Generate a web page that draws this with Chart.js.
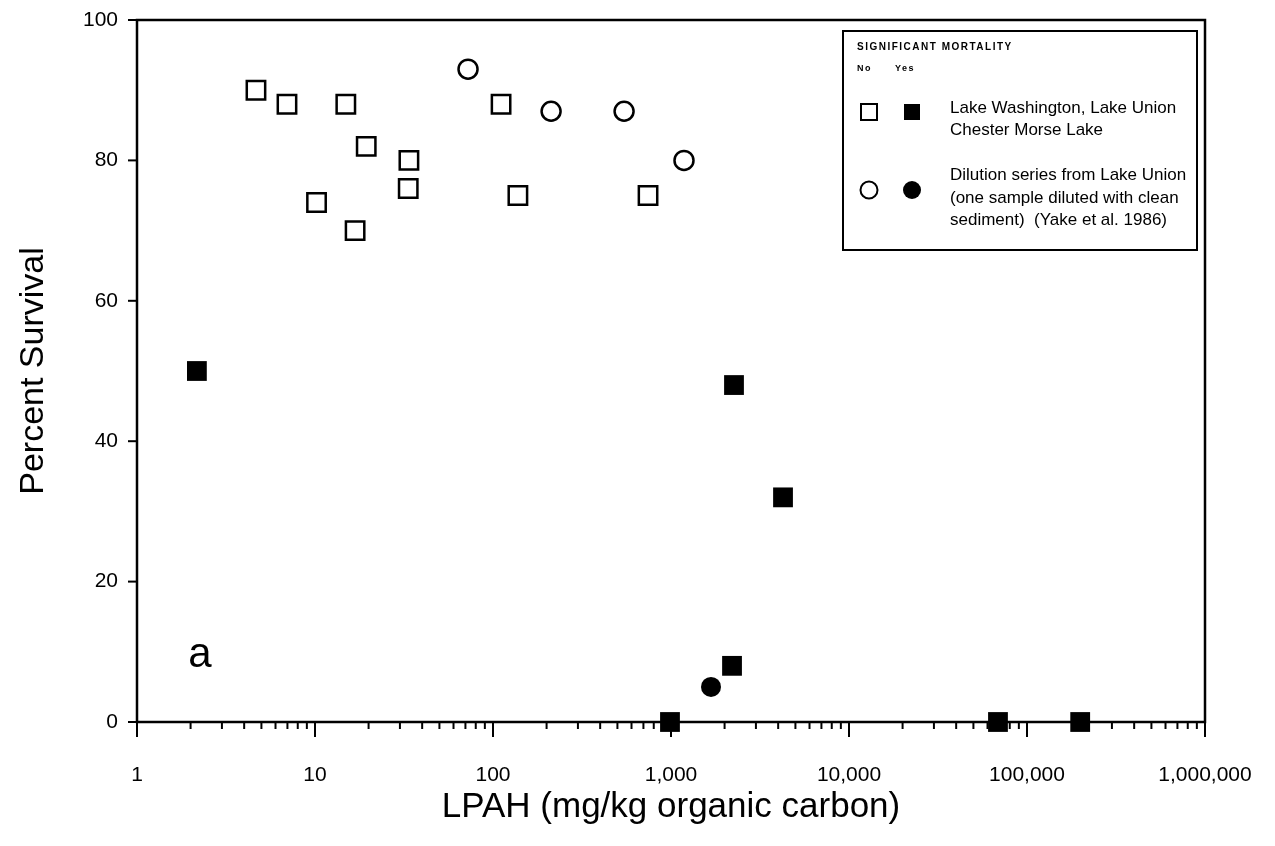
<!DOCTYPE html>
<html>
<head>
<meta charset="utf-8">
<script src="https://cdn.jsdelivr.net/npm/chart.js@4"></script>
<style>
  body { margin: 0; background: #fff; }
  canvas { display: block; }
</style>
</head>
<body>
<canvas id="chart1" width="1275" height="846"></canvas>
<script>
// LPAH (mg/kg OC) vs percent survival
const openSquareX = [4.66, 6.96, 14.9, 19.4, 33.7, 33.4, 10.2, 16.8, 111, 138, 743];
const openSquareY = [90, 88, 88, 82, 80, 76, 74, 70, 88, 75, 75];
const openCircleX = [72.4, 212, 545, 1183];
const openCircleY = [93, 87, 87, 80];
const filledSquareX = [2.17, 2259, 4259, 2202, 987, 68700, 199000];
const filledSquareY = [50, 48, 32, 8, 0, 0, 0];
const filledCircleX = [1678];
const filledCircleY = [5];

const xMajorTicks = [1, 10, 100, 1000, 10000, 100000, 1000000];
const yTicks = [0, 20, 40, 60, 80, 100];

const FONT = '"Liberation Sans", Arial, Helvetica, sans-serif';

function pts(xs, ys) {
  return xs.map((x, i) => ({ x: x, y: ys[i] }));
}

// frame, tick marks, panel letter and legend box
const extras = {
  id: 'extras',
  afterDraw(chart) {
    const ctx = chart.ctx;
    const area = chart.chartArea;
    const xs = chart.scales.x;
    const ys = chart.scales.y;
    ctx.save();
    ctx.strokeStyle = '#000';
    ctx.lineWidth = 2.5;
    ctx.strokeRect(area.left, area.top, area.right - area.left, area.bottom - area.top);

    // y ticks (outside, left)
    ctx.lineWidth = 2;
    yTicks.forEach(v => {
      const py = ys.getPixelForValue(v);
      ctx.beginPath();
      ctx.moveTo(area.left - 9, py);
      ctx.lineTo(area.left, py);
      ctx.stroke();
    });

    // x ticks, majors long and minors short
    for (let d = 0; d < 6; d++) {
      for (let m = 1; m <= 9; m++) {
        const v = m * Math.pow(10, d);
        const px = xs.getPixelForValue(v);
        const len = m === 1 ? 15 : 7;
        ctx.beginPath();
        ctx.moveTo(px, area.bottom);
        ctx.lineTo(px, area.bottom + len);
        ctx.stroke();
      }
    }
    const pEnd = xs.getPixelForValue(1000000);
    ctx.beginPath();
    ctx.moveTo(pEnd, area.bottom);
    ctx.lineTo(pEnd, area.bottom + 15);
    ctx.stroke();

    // panel letter
    ctx.fillStyle = '#000';
    ctx.font = '42px ' + FONT;
    ctx.textAlign = 'center';
    ctx.textBaseline = 'middle';
    ctx.fillText('a', xs.getPixelForValue(2.26), ys.getPixelForValue(9.5));

    // legend
    const bx = 843, by = 31, bw = 354, bh = 219;
    ctx.fillStyle = '#fff';
    ctx.fillRect(bx, by, bw, bh);
    ctx.lineWidth = 2;
    ctx.strokeRect(bx, by, bw, bh);
    ctx.fillStyle = '#000';
    ctx.textAlign = 'left';
    ctx.textBaseline = 'middle';
    ctx.letterSpacing = '1.5px';
    ctx.font = 'bold 10px ' + FONT;
    ctx.fillText('SIGNIFICANT MORTALITY', 857, 47);
    ctx.font = 'bold 9px ' + FONT;
    ctx.fillText('No', 857, 69);
    ctx.fillText('Yes', 895, 69);
    ctx.letterSpacing = '0px';

    ctx.lineWidth = 2;
    ctx.strokeRect(861, 104, 16, 16);
    ctx.fillRect(904, 104, 16, 16);
    ctx.beginPath();
    ctx.arc(869, 190, 8.5, 0, Math.PI * 2);
    ctx.stroke();
    ctx.beginPath();
    ctx.arc(912, 190, 9, 0, Math.PI * 2);
    ctx.fill();

    ctx.font = '17px ' + FONT;
    ctx.fillText('Lake Washington, Lake Union', 950, 108);
    ctx.fillText('Chester Morse Lake', 950, 130);
    ctx.fillText('Dilution series from Lake Union', 950, 175);
    ctx.fillText('(one sample diluted with clean', 950, 198);
    ctx.fillText('sediment)  (Yake et al. 1986)', 950, 220);
    ctx.restore();
  }
};

new Chart(document.getElementById('chart1'), {
  type: 'scatter',
  data: {
    datasets: [
      {
        label: 'No - lakes',
        data: pts(openSquareX, openSquareY),
        pointStyle: 'rect',
        pointRadius: 13,
        borderWidth: 2.5,
        borderColor: '#000',
        backgroundColor: '#fff',
        clip: false
      },
      {
        label: 'No - dilution',
        data: pts(openCircleX, openCircleY),
        pointStyle: 'circle',
        pointRadius: 9.5,
        borderWidth: 2.5,
        borderColor: '#000',
        backgroundColor: '#fff',
        clip: false
      },
      {
        label: 'Yes - lakes',
        data: pts(filledSquareX, filledSquareY),
        pointStyle: 'rect',
        pointRadius: 14,
        borderWidth: 0,
        borderColor: '#000',
        backgroundColor: '#000',
        clip: false
      },
      {
        label: 'Yes - dilution',
        data: pts(filledCircleX, filledCircleY),
        pointStyle: 'circle',
        pointRadius: 10,
        borderWidth: 0,
        borderColor: '#000',
        backgroundColor: '#000',
        clip: false
      }
    ]
  },
  options: {
    responsive: false,
    animation: false,
    events: [],
    layout: { padding: { top: 20, right: 70, left: 0, bottom: 0 } },
    plugins: {
      legend: { display: false },
      tooltip: { enabled: false }
    },
    scales: {
      x: {
        type: 'logarithmic',
        min: 1,
        max: 1000000,
        afterBuildTicks: (scale) => {
          scale.ticks = xMajorTicks.map(v => ({ value: v }));
        },
        afterFit: (scale) => {
          scale.height = 124;
          scale.paddingLeft = 0;
          scale.paddingRight = 0;
        },
        grid: { display: false },
        border: { display: false },
        ticks: {
          autoSkip: false,
          maxRotation: 0,
          padding: 33,
          color: '#000',
          font: { family: FONT, size: 21 },
          callback: (v) => Number(v).toLocaleString('en-US')
        },
        title: {
          display: true,
          text: 'LPAH (mg/kg organic carbon)',
          color: '#000',
          font: { family: FONT, size: 35 },
          padding: { top: 0, bottom: 18 }
        }
      },
      y: {
        min: 0,
        max: 100,
        afterBuildTicks: (scale) => {
          scale.ticks = yTicks.map(v => ({ value: v }));
        },
        afterFit: (scale) => {
          scale.width = 137;
          scale.paddingTop = 0;
          scale.paddingBottom = 0;
        },
        grid: { display: false },
        border: { display: false },
        ticks: {
          padding: 11,
          color: '#000',
          font: { family: FONT, size: 21 }
        },
        title: {
          display: true,
          text: 'Percent Survival',
          color: '#000',
          font: { family: FONT, size: 34 },
          padding: { top: 13, bottom: 0 }
        }
      }
    }
  },
  plugins: [extras]
});
</script>
</body>
</html>
